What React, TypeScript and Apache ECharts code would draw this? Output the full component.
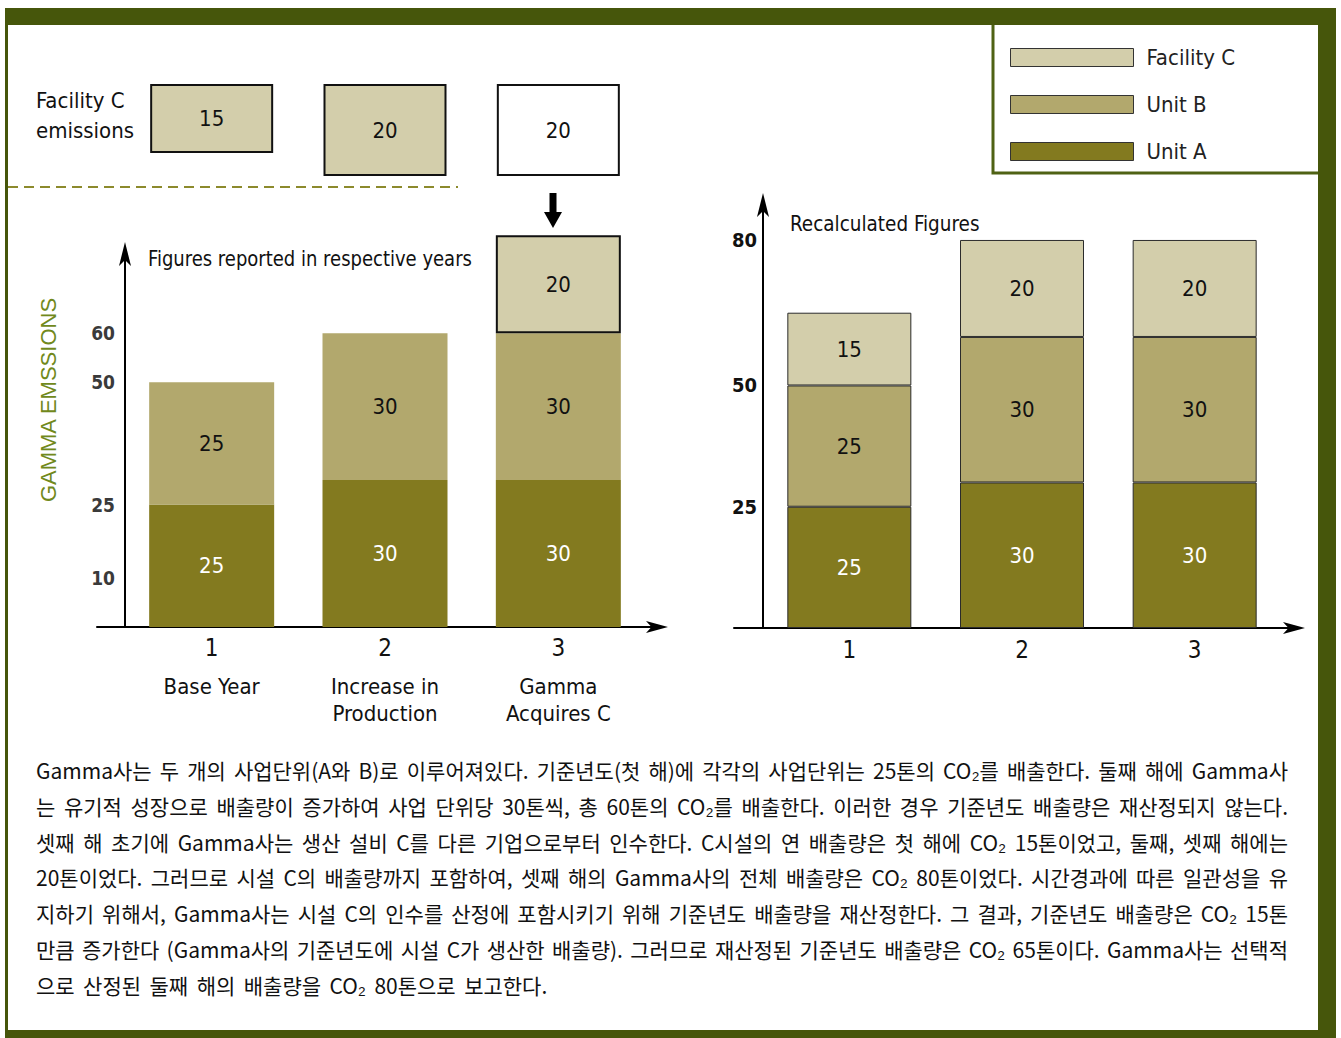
import React, { useEffect, useRef } from 'react';
import * as echarts from 'echarts';

// ---------------- data ----------------
const years = ['1', '2', '3'];
const yearNotes = ['Base Year', 'Increase in\nProduction', 'Gamma\nAcquires C'];
const seriesNames = ['Facility C', 'Unit B', 'Unit A'];
const facilityCEmissions = [15, 20, 20];
const reportedUnitA = [25, 30, 30];
const reportedUnitB = [25, 30, 30];
const reportedFacilityC = [null, null, 20];
const recalcUnitA = [25, 30, 30];
const recalcUnitB = [25, 30, 30];
const recalcFacilityC = [15, 20, 20];
const reportedTicks = [10, 25, 50, 60];
const recalcTicks = [25, 50, 80];
const paragraphLines = [
  'Gamma사는 두 개의 사업단위(A와 B)로 이루어져있다. 기준년도(첫 해)에 각각의 사업단위는 25톤의 CO₂를 배출한다. 둘째 해에 Gamma사',
  '는 유기적 성장으로 배출량이 증가하여 사업 단위당 30톤씩, 총 60톤의 CO₂를 배출한다. 이러한 경우 기준년도 배출량은 재산정되지 않는다.',
  '셋째 해 초기에 Gamma사는 생산 설비 C를 다른 기업으로부터 인수한다. C시설의 연 배출량은 첫 해에 CO₂ 15톤이었고, 둘째, 셋째 해에는',
  '20톤이었다. 그러므로 시설 C의 배출량까지 포함하여, 셋째 해의 Gamma사의 전체 배출량은 CO₂ 80톤이었다. 시간경과에 따른 일관성을 유',
  '지하기 위해서, Gamma사는 시설 C의 인수를 산정에 포함시키기 위해 기준년도 배출량을 재산정한다. 그 결과, 기준년도 배출량은 CO₂ 15톤',
  '만큼 증가한다 (Gamma사의 기준년도에 시설 C가 생산한 배출량). 그러므로 재산정된 기준년도 배출량은 CO₂ 65톤이다. Gamma사는 선택적',
  '으로 산정된 둘째 해의 배출량을 CO₂ 80톤으로 보고한다.',
];

// ---------------- styles ----------------
const NARROW = "'Liberation Sans Narrow', 'Arial Narrow', 'DejaVu Sans Condensed', 'Liberation Sans', sans-serif";
const SANS = "'Liberation Sans', Arial, sans-serif";
const KR = "'Noto Sans CJK KR', sans-serif";
const C_FAC = '#d3ceab';
const C_B = '#b2a86d';
const C_A = '#837a1f';
const FRAME = '#46560b';

const PARA_SIZE = 21;
const PARA_SCALE = 1.0;

function buildParagraph(): any[] {
  const ctx = document.createElement('canvas').getContext('2d') as CanvasRenderingContext2D;
  ctx.font = `${PARA_SIZE}px ${KR}`;
  const out: any[] = [];
  const left = 36;
  const right = 1288;
  const top = 770;
  const step = 35.8;
  paragraphLines.forEach((line, i) => {
    const words = line.split(' ');
    const widths = words.map((w) => ctx.measureText(w).width * PARA_SCALE);
    const total = widths.reduce((a, b) => a + b, 0);
    const last = i === paragraphLines.length - 1;
    const gap = last || words.length < 2
      ? ctx.measureText(' ').width * PARA_SCALE * 1.8
      : (right - left - total) / (words.length - 1);
    let x = left;
    words.forEach((w, j) => {
      out.push({
        type: 'text',
        x,
        y: top + i * step,
        scaleX: PARA_SCALE,
        silent: true,
        style: {
          text: w,
          fontSize: PARA_SIZE,
          fontFamily: KR,
          fill: '#111',
          textAlign: 'left',
          textVerticalAlign: 'middle',
          align: 'left',
          verticalAlign: 'middle',
        },
      });
      x += widths[j] + gap;
    });
  });
  return out;
}

function txt(text: string, x: number, y: number, scaleX = 1, extra: any = {}) {
  return {
    type: 'text',
    x,
    y,
    scaleX,
    silent: true,
    style: {
      text,
      fontSize: 22,
      fontFamily: NARROW,
      fill: '#111',
      textAlign: 'left',
      textVerticalAlign: 'middle',
      align: 'left',
      verticalAlign: 'middle',
      ...extra,
    },
  };
}

function barLabel(color: string) {
  return { show: true, position: 'inside', color, fontSize: 22, fontFamily: NARROW };
}

export default function App() {
  const ref = useRef<HTMLDivElement>(null);

  useEffect(() => {
    if (!ref.current) return;
    const chart = echarts.init(ref.current, null, { renderer: 'svg' });

    const arrowLine = { show: true, onZero: false, symbol: ['none', 'arrow'], lineStyle: { color: '#000', width: 2 } };

    const option: any = {
      animation: false,
      backgroundColor: '#fff',
      legend: {
        data: seriesNames,
        orient: 'vertical',
        left: 1010,
        top: 45,
        padding: 0,
        itemWidth: 123,
        itemHeight: 18,
        itemGap: 22,
        icon: 'rect',
        selectedMode: false,
        itemStyle: { borderColor: '#333', borderWidth: 1 },
        textStyle: { fontSize: 22, lineHeight: 25, color: '#222', fontFamily: NARROW, padding: [0, 0, 0, 8] },
      },
      grid: [
        { left: 125, top: 250, width: 520, height: 377 }, // 0 reported
        { left: 97, top: 600, width: 559, height: 27 }, // 1 reported x-line
        { left: 763, top: 206, width: 518, height: 422 }, // 2 recalculated
        { left: 734, top: 600, width: 560, height: 28 }, // 3 recalculated x-line
        { left: 125, top: 84, width: 520, height: 92 }, // 4 facility C boxes
      ],
      xAxis: [
        {
          gridIndex: 0, type: 'category', data: years,
          axisLine: { show: false }, axisTick: { show: false },
          axisLabel: { fontSize: 24, color: '#111', margin: 9, fontFamily: NARROW },
        },
        {
          gridIndex: 0, type: 'category', data: yearNotes, position: 'bottom', offset: 40,
          axisLine: { show: false }, axisTick: { show: false },
          axisLabel: { fontSize: 22, lineHeight: 27, color: '#111', margin: 6, fontFamily: NARROW },
        },
        {
          gridIndex: 1, type: 'value', min: 0, max: 1,
          axisLine: { ...arrowLine, symbolSize: [9, 22], symbolOffset: [0, 12] },
          axisTick: { show: false }, axisLabel: { show: false }, splitLine: { show: false },
        },
        {
          gridIndex: 2, type: 'category', data: years,
          axisLine: { show: false }, axisTick: { show: false },
          axisLabel: { fontSize: 24, color: '#111', margin: 10, fontFamily: NARROW },
        },
        {
          gridIndex: 3, type: 'value', min: 0, max: 1,
          axisLine: { ...arrowLine, symbolSize: [9, 22], symbolOffset: [0, 11] },
          axisTick: { show: false }, axisLabel: { show: false }, splitLine: { show: false },
        },
        { gridIndex: 4, type: 'category', data: years, show: false },
      ],
      yAxis: [
        {
          gridIndex: 0, type: 'value', min: 0, max: 77, interval: 5,
          axisLine: { ...arrowLine, symbolSize: [9, 24], symbolOffset: [0, 8] },
          axisTick: { show: false }, splitLine: { show: false },
          axisLabel: {
            margin: 10, fontSize: 19, fontWeight: 'bold', color: '#3a3a3a', fontFamily: NARROW,
            formatter: (v: number) => (reportedTicks.includes(v) ? String(v) : ''),
          },
        },
        { gridIndex: 1, type: 'value', show: false },
        {
          gridIndex: 2, type: 'value', min: 0, max: 87, interval: 5,
          axisLine: { ...arrowLine, symbolSize: [9, 24], symbolOffset: [0, 13] },
          axisTick: { show: false }, splitLine: { show: false },
          axisLabel: {
            margin: 6, fontSize: 20, fontWeight: 'bold', color: '#111', fontFamily: NARROW,
            formatter: (v: number) => (recalcTicks.includes(v) ? String(v) : ''),
          },
        },
        { gridIndex: 3, type: 'value', show: false },
        { gridIndex: 4, type: 'value', min: 0, max: 20, inverse: true, show: false },
      ],
      series: [
        {
          name: 'Unit A', type: 'bar', stack: 'reported', xAxisIndex: 0, yAxisIndex: 0,
          data: reportedUnitA, barWidth: 125, clip: false,
          itemStyle: { color: C_A }, label: barLabel('#fff'),
        },
        {
          name: 'Unit B', type: 'bar', stack: 'reported', xAxisIndex: 0, yAxisIndex: 0,
          data: reportedUnitB, barWidth: 125, clip: false,
          itemStyle: { color: C_B }, label: barLabel('#111'),
        },
        {
          name: 'Facility C', type: 'bar', stack: 'reported', xAxisIndex: 0, yAxisIndex: 0,
          data: reportedFacilityC, barWidth: 125, clip: false,
          itemStyle: { color: C_FAC, borderColor: '#111', borderWidth: 2 }, label: barLabel('#111'),
        },
        {
          name: 'Unit A', type: 'bar', stack: 'recalc', xAxisIndex: 3, yAxisIndex: 2,
          data: recalcUnitA, barWidth: 124, clip: false,
          itemStyle: { color: C_A, borderColor: '#2b2b2b', borderWidth: 1 }, label: barLabel('#fff'),
        },
        {
          name: 'Unit B', type: 'bar', stack: 'recalc', xAxisIndex: 3, yAxisIndex: 2,
          data: recalcUnitB, barWidth: 124, clip: false,
          itemStyle: { color: C_B, borderColor: '#2b2b2b', borderWidth: 1 }, label: barLabel('#111'),
        },
        {
          name: 'Facility C', type: 'bar', stack: 'recalc', xAxisIndex: 3, yAxisIndex: 2,
          data: recalcFacilityC, barWidth: 124, clip: false,
          itemStyle: { color: C_FAC, borderColor: '#2b2b2b', borderWidth: 1 }, label: barLabel('#111'),
        },
        {
          name: 'Facility C emissions', type: 'bar', xAxisIndex: 5, yAxisIndex: 4,
          barWidth: 123, clip: false,
          data: facilityCEmissions.map((v, i) => ({
            value: v,
            itemStyle: { color: i < 2 ? C_FAC : '#fff', borderColor: '#111', borderWidth: 2 },
          })),
          label: barLabel('#111'),
        },
        { name: 'axis-line-left', type: 'line', data: [], xAxisIndex: 2, yAxisIndex: 1 },
        { name: 'axis-line-right', type: 'line', data: [], xAxisIndex: 4, yAxisIndex: 3 },
      ],
      graphic: [
        // legend frame
        { type: 'rect', silent: true, shape: { x: 993, y: 20, width: 330, height: 153 }, style: { fill: 'none', stroke: '#4f6214', lineWidth: 3 } },
        // outer frame
        { type: 'rect', silent: true, shape: { x: 5, y: 8, width: 1331, height: 17 }, style: { fill: FRAME } },
        { type: 'rect', silent: true, shape: { x: 5, y: 8, width: 3, height: 1030 }, style: { fill: FRAME } },
        { type: 'rect', silent: true, shape: { x: 1318, y: 8, width: 18, height: 1030 }, style: { fill: FRAME } },
        { type: 'rect', silent: true, shape: { x: 5, y: 1030, width: 1331, height: 8 }, style: { fill: FRAME } },
        // dashed separator
        { type: 'line', silent: true, shape: { x1: 8, y1: 187, x2: 458, y2: 187 }, style: { stroke: '#8c8a2c', lineWidth: 2, lineDash: [10, 6] } },
        // down arrow
        {
          type: 'polygon', silent: true,
          shape: { points: [[549.5, 193], [556.5, 193], [556.5, 212], [562, 212], [553, 228], [544, 212], [549.5, 212]] },
          style: { fill: '#000' },
        },
        txt('Facility C', 36, 100),
        txt('emissions', 36, 130),
        txt('Figures reported in respective years', 148, 258, 0.91),
        txt('Recalculated Figures', 790, 223, 0.93),
        {
          type: 'text', x: 48, y: 400, rotation: Math.PI / 2, silent: true,
          style: {
            text: 'GAMMA EMSSIONS', fontSize: 22, fontFamily: SANS, fill: '#71891c',
            textAlign: 'center', textVerticalAlign: 'middle', align: 'center', verticalAlign: 'middle',
          },
        },
        ...buildParagraph(),
      ],
    };

    chart.setOption(option);
    return () => chart.dispose();
  }, []);

  return (
    <div style={{ position: 'absolute', left: 0, top: 0, width: 1341, height: 1038, background: '#fff' }}>
      <div ref={ref} style={{ width: 1341, height: 1038 }} />
    </div>
  );
}
